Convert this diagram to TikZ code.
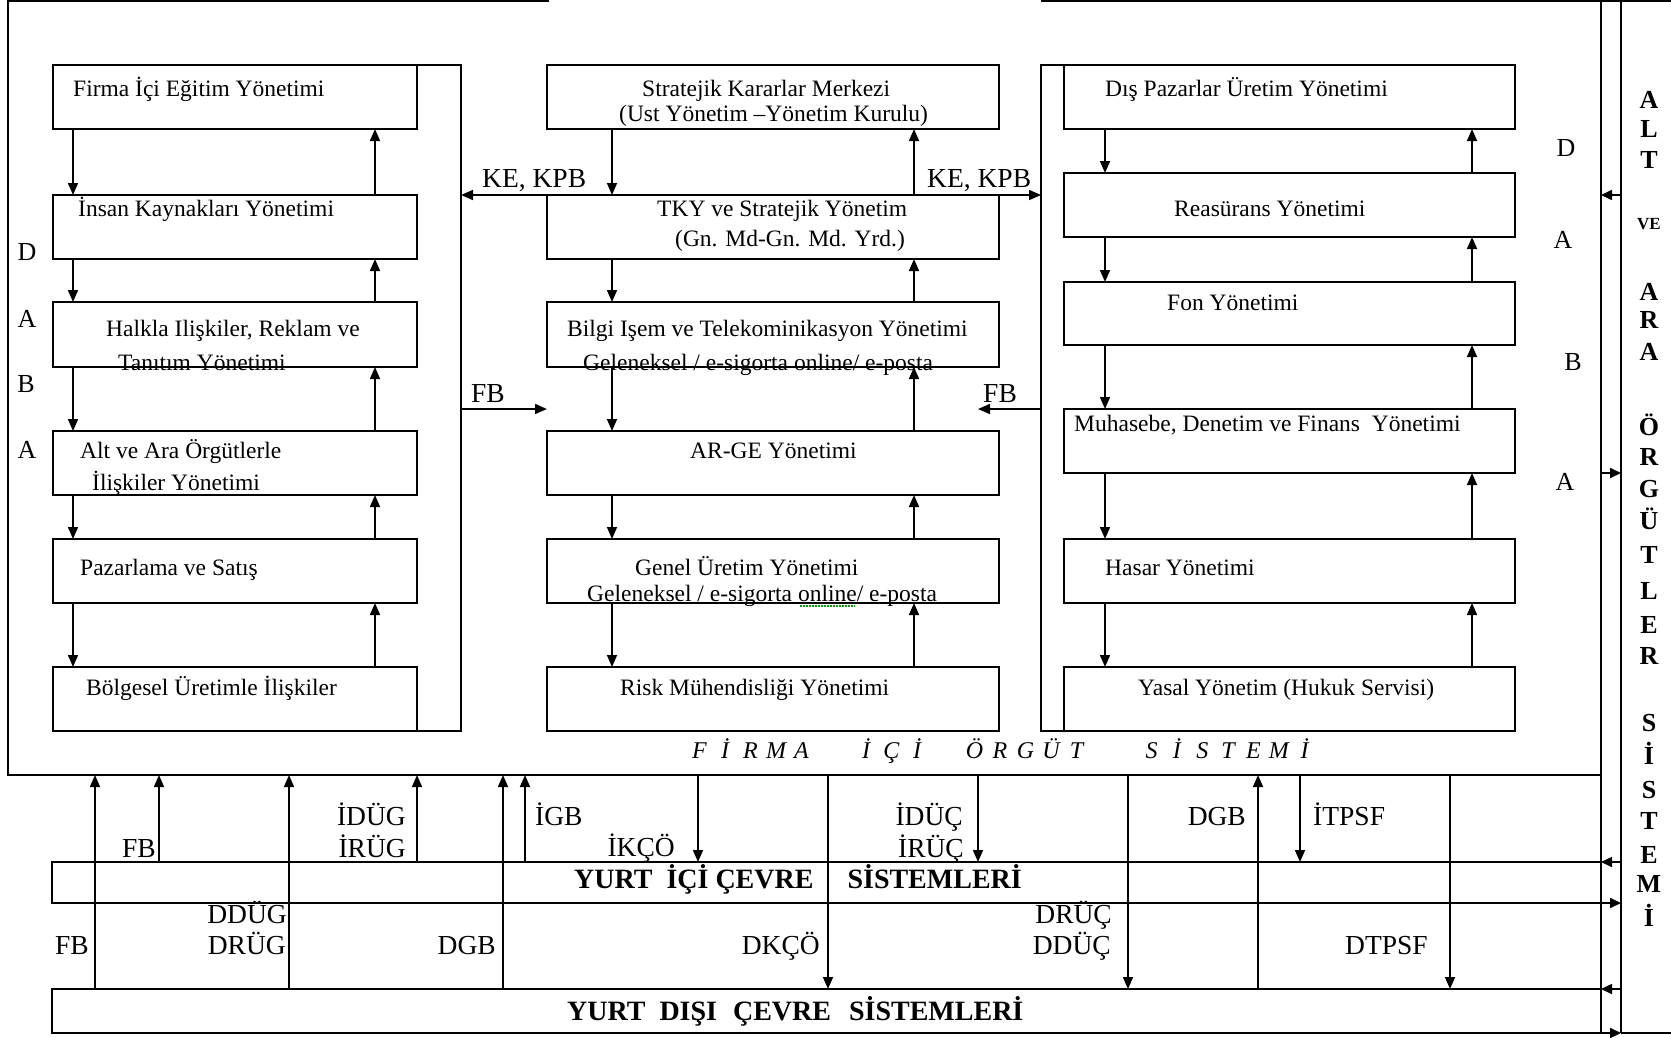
\documentclass[tikz,border=0pt]{standalone}
\usepackage{fontspec}
\setmainfont{Liberation Serif}
\usetikzlibrary{arrows.meta}
\newcommand{\lbx}[1]{\makebox[25.5pt]{#1}}
\begin{document}
\begin{tikzpicture}[x=1pt,y=-1pt,
  ln/.style={line width=1.7pt},
  box/.style={draw, line width=1.7pt, anchor=north west, inner sep=0pt, outer sep=0pt},
  arr/.style={line width=1.7pt, -{Triangle[length=12pt,width=10pt]}},
  arrs/.style={line width=1.7pt, -{Triangle[length=11pt,width=10pt]}},
  btxt/.style={anchor=base west, inner sep=0pt, font=\fontsize{23.5}{28}\selectfont},
  lab/.style={anchor=base west, inner sep=0pt, font=\fontsize{27.5}{32}\selectfont},
  labr/.style={lab, anchor=base east},
  sidel/.style={anchor=base, inner sep=0pt, font=\fontsize{26}{30}\selectfont},
  vlet/.style={anchor=base, inner sep=0pt, font=\bfseries\fontsize{26}{30}\selectfont},
  yurt/.style={anchor=base west, inner sep=0pt, font=\bfseries\fontsize{28}{32}\selectfont},
  firm/.style={anchor=base, inner sep=0pt, font=\itshape\fontsize{24}{28}\selectfont}]
\useasboundingbox (0,0) rectangle (1671,1037);

% ---------- left column ----------
\node[box, minimum width=364pt, minimum height=64pt] (L1) at (53,65) {};
\node[box, minimum width=364pt, minimum height=64pt] (L2) at (53,195) {};
\node[box, minimum width=364pt, minimum height=65pt] (L3) at (53,302) {};
\node[box, minimum width=364pt, minimum height=64pt] (L4) at (53,431) {};
\node[box, minimum width=364pt, minimum height=64pt] (L5) at (53,539) {};
\node[box, minimum width=364pt, minimum height=64pt] (L6) at (53,667) {};

% ---------- middle column ----------
\node[box, minimum width=452pt, minimum height=64pt] (M1) at (547,65) {};
\node[box, minimum width=452pt, minimum height=64pt] (M2) at (547,195) {};
\node[box, minimum width=452pt, minimum height=65pt] (M3) at (547,302) {};
\node[box, minimum width=452pt, minimum height=64pt] (M4) at (547,431) {};
\node[box, minimum width=452pt, minimum height=64pt] (M5) at (547,539) {};
\node[box, minimum width=452pt, minimum height=64pt] (M6) at (547,667) {};

% ---------- right column ----------
\node[box, minimum width=451pt, minimum height=64pt] (R1) at (1064,65) {};
\node[box, minimum width=451pt, minimum height=64pt] (R2) at (1064,173) {};
\node[box, minimum width=451pt, minimum height=63pt] (R3) at (1064,282) {};
\node[box, minimum width=451pt, minimum height=64pt] (R4) at (1064,409) {};
\node[box, minimum width=451pt, minimum height=64pt] (R5) at (1064,539) {};
\node[box, minimum width=451pt, minimum height=64pt] (R6) at (1064,667) {};

% ---------- environment bands ----------
\node[box, minimum width=1549pt, minimum height=41pt] (YI) at (52,862) {};
\node[box, minimum width=1549pt, minimum height=44pt] (YD) at (52,989) {};

% ---------- helper coordinates ----------
\coordinate (xl1) at (73,0);   \coordinate (xl2) at (375,0);
\coordinate (xm1) at (612,0);  \coordinate (xm2) at (914,0);
\coordinate (xr1) at (1105,0); \coordinate (xr2) at (1472,0);
\coordinate (lfr) at (461,0);  \coordinate (rfr) at (1041,0);
\coordinate (fby) at (0,409);  \coordinate (fbtip) at (978,409);
\coordinate (ftl) at (8,1);    \coordinate (fbl) at (8,775);
\coordinate (fbr) at (1601,775);
\coordinate (gapl) at (549,1); \coordinate (gapr) at (1041,1);
\coordinate (tope) at (1671,1);
\coordinate (da) at (1601,0);  \coordinate (db) at (1621,0);
\coordinate (bote) at (1671,1033);

% ---------- column chains ----------
\foreach \a/\b in {L1/L2,L2/L3,L3/L4,L4/L5,L5/L6}{
  \draw[arr] (\a.south -| xl1) -- (\b.north -| xl1);
  \draw[arr] (\b.north -| xl2) -- (\a.south -| xl2);
}
\foreach \a/\b in {M1/M2,M2/M3,M3/M4,M4/M5,M5/M6}{
  \draw[arr] (\a.south -| xm1) -- (\b.north -| xm1);
  \draw[arr] (\b.north -| xm2) -- (\a.south -| xm2);
}
\foreach \a/\b in {R1/R2,R2/R3,R3/R4,R4/R5,R5/R6}{
  \draw[arr] (\a.south -| xr1) -- (\b.north -| xr1);
  \draw[arr] (\b.north -| xr2) -- (\a.south -| xr2);
}

% ---------- group frames ----------
\draw[ln] (L1.north east) -| (lfr |- L6.south) -- (L6.south east);
\draw[ln] (R1.north west) -| (rfr |- R6.south) -- (R6.south west);

% ---------- links between columns ----------
\draw[arr] (M2.north west) -- (M2.north west -| lfr);
\draw[arr] (M2.north east) -- (M2.north east -| rfr);
\draw[arr] (lfr |- fby) -- (M4.west |- fby);
\draw[arr] (rfr |- fby) -- (fbtip);
\node[lab] (kel) at (482,187) {KE, KPB};
\node[lab] (ker) at (927,187) {KE, KPB};
\node[lab] (fbl1) at (471,402) {FB};
\node[lab] (fbr1) at (983,402) {FB};

% ---------- outer frame and double rail ----------
\draw[ln] (gapl) -- (ftl) -- (fbl) -- (fbr);
\draw[ln] (gapr) -- (tope);
\draw[ln] (da) -- (da |- YD.south);
\draw[ln] (db) -- (db |- YD.south);
\draw[arrs] (db |- M2.north) -- (da |- M2.north);
\draw[arrs] (da |- R4.south) -- (db |- R4.south);
\draw[arrs] (db |- YI.north) -- (da |- YI.north);
\draw[arrs] (da |- YI.south) -- (db |- YI.south);
\draw[arrs] (db |- YD.north) -- (da |- YD.north);
\draw[arrs] (da |- YD.south) -- (db |- YD.south);
\draw[ln] (db |- YD.south) -- (bote);

% ---------- flows to and from the environment ----------
\coordinate (u1) at (95,0);   \coordinate (u2) at (159,0);
\coordinate (u3) at (289,0);  \coordinate (u4) at (417,0);
\coordinate (u5) at (503,0);  \coordinate (u6) at (525,0);
\coordinate (u7) at (1258,0);
\coordinate (d1) at (698,0);  \coordinate (d2) at (828,0);
\coordinate (d3) at (978,0);  \coordinate (d4) at (1128,0);
\coordinate (d5) at (1300,0); \coordinate (d6) at (1450,0);
\draw[arr] (YD.north -| u1) -- (fbl -| u1);
\draw[arr] (YI.north -| u2) -- (fbl -| u2);
\draw[arr] (YD.north -| u3) -- (fbl -| u3);
\draw[arr] (YI.north -| u4) -- (fbl -| u4);
\draw[arr] (YD.north -| u5) -- (fbl -| u5);
\draw[arr] (YI.north -| u6) -- (fbl -| u6);
\draw[arr] (YD.north -| u7) -- (fbl -| u7);
\draw[arr] (fbl -| d1) -- (YI.north -| d1);
\draw[arr] (fbl -| d2) -- (YD.north -| d2);
\draw[arr] (fbl -| d3) -- (YI.north -| d3);
\draw[arr] (fbl -| d4) -- (YD.north -| d4);
\draw[arr] (fbl -| d5) -- (YI.north -| d5);
\draw[arr] (fbl -| d6) -- (YD.north -| d6);

% ---------- box texts ----------
\node[btxt] (tL1) at (73,96) {Firma İçi Eğitim Yönetimi};
\node[btxt] (tL2) at (78,216) {İnsan Kaynakları Yönetimi};
\node[btxt] (tL3a) at (106,336) {Halkla Ilişkiler, Reklam ve};
\node[btxt] (tL3b) at (118,370) {Tanıtım Yönetimi};
\node[btxt] (tL4a) at (80,458) {Alt ve Ara Örgütlerle};
\node[btxt] (tL4b) at (92,490) {İlişkiler Yönetimi};
\node[btxt] (tL5) at (80,575) {Pazarlama ve Satış};
\node[btxt] (tL6) at (86,695) {Bölgesel Üretimle İlişkiler};

\node[btxt] (tM1a) at (642,96) {Stratejik Kararlar Merkezi};
\node[btxt] (tM1b) at (619,121) {(Ust Yönetim –Yönetim Kurulu)};
\node[btxt] (tM2a) at (657,216) {TKY ve Stratejik Yönetim};
\node[btxt] (tM2b) at (675,246) {(Gn. Md-Gn. Md. Yrd.)};
\node[btxt] (tM3a) at (567,336) {Bilgi Işem ve Telekominikasyon Yönetimi};
\node[btxt] (tM3b) at (583,370) {Geleneksel / e-sigorta online/ e-posta};
\node[btxt] (tM4) at (690,458) {AR-GE Yönetimi};
\node[btxt] (tM5a) at (635,575) {Genel Üretim Yönetimi};
\node[btxt] (tM5b) at (587,601) {Geleneksel / e-sigorta online/ e-posta};
\node[btxt] (tM6) at (620,695) {Risk Mühendisliği Yönetimi};
\coordinate (sq1) at (800,606); \coordinate (sq2) at (855,606);
\draw[green!60!black, line width=1.2pt, dash pattern=on 1.5pt off 1.5pt] (sq1) -- (sq2);

\node[btxt] (tR1) at (1105,96) {Dış Pazarlar Üretim Yönetimi};
\node[btxt] (tR2) at (1174,216) {Reasürans Yönetimi};
\node[btxt] (tR3) at (1167,310) {Fon Yönetimi};
\node[btxt] (tR4) at (1074,431) {Muhasebe, Denetim ve Finans\ \ Yönetimi};
\node[btxt] (tR5) at (1105,575) {Hasar Yönetimi};
\node[btxt] (tR6) at (1138,695) {Yasal Yönetim (Hukuk Servisi)};

% ---------- side letters ----------
\node[sidel] (sl1) at (27,260) {D};
\node[sidel] (sl2) at (27,327) {A};
\node[sidel] (sl3) at (26,392) {B};
\node[sidel] (sl4) at (27,458) {A};
\node[sidel] (sr1) at (1566,156) {D};
\node[sidel] (sr2) at (1563,248) {A};
\node[sidel] (sr3) at (1573,370) {B};
\node[sidel] (sr4) at (1565,490) {A};

% ---------- vertical title on the right ----------
\foreach \ch/\yy [count=\i] in {A/108.5,L/137.5,T/168.5,A/300.5,R/328.5,A/360.5,
  Ö/435,R/465.5,G/497.5,Ü/529,T/563.5,L/599.5,E/633.5,R/664.5,
  S/731.5,İ/764,S/798.5,T/829.5,E/863.5,M/892.5,İ/926}{
  \node[vlet] (v\i) at (1649,\yy) {\ch};
}
\node[vlet, font=\bfseries\fontsize{17}{20}\selectfont] (vve) at (1649,229) {VE};

% ---------- italic system title ----------
\node[firm] (fw1) at (750.5,758) {\lbx{F}\lbx{İ}\lbx{R}\lbx{M}\lbx{A}};
\node[firm] (fw2) at (891.5,758) {\lbx{İ}\lbx{Ç}\lbx{İ}};
\node[firm] (fw3) at (1025.5,758) {\lbx{Ö}\lbx{R}\lbx{G}\lbx{Ü}\lbx{T}};
\node[firm] (fw4) at (1228,758) {\lbx{S}\lbx{İ}\lbx{S}\lbx{T}\lbx{E}\lbx{M}\lbx{İ}};

% ---------- environment titles ----------
\node[yurt] (yit) at (574,888) {YURT\hspace{14pt}İÇİ ÇEVRE\hspace{34pt}SİSTEMLERİ};
\node[yurt] (ydt) at (567,1020) {YURT\hspace{14pt}DIŞI\hspace{16pt}ÇEVRE\hspace{18pt}SİSTEMLERİ};

% ---------- flow labels ----------
\node[labr] (bfb1) at (156,857) {FB};
\node[labr] (bidug) at (406,825) {İDÜG};
\node[labr] (birug) at (406,857) {İRÜG};
\node[lab]  (bigb) at (535,825) {İGB};
\node[labr] (bikco) at (675,856) {İKÇÖ};
\node[labr] (biduc) at (963,825) {İDÜÇ};
\node[labr] (biruc) at (964,857) {İRÜÇ};
\node[labr] (bdgb1) at (1246,825) {DGB};
\node[lab]  (bitp) at (1313,825) {İTPSF};
\node[labr] (bfb2) at (89,954) {FB};
\node[labr] (bddug) at (287,923) {DDÜG};
\node[labr] (bdrug) at (286,954) {DRÜG};
\node[labr] (bdgb2) at (496,954) {DGB};
\node[labr] (bdkco) at (820,954) {DKÇÖ};
\node[labr] (bdruc) at (1112,923) {DRÜÇ};
\node[labr] (bdduc) at (1111,954) {DDÜÇ};
\node[lab]  (bdtp) at (1345,954) {DTPSF};
\end{tikzpicture}
\end{document}
